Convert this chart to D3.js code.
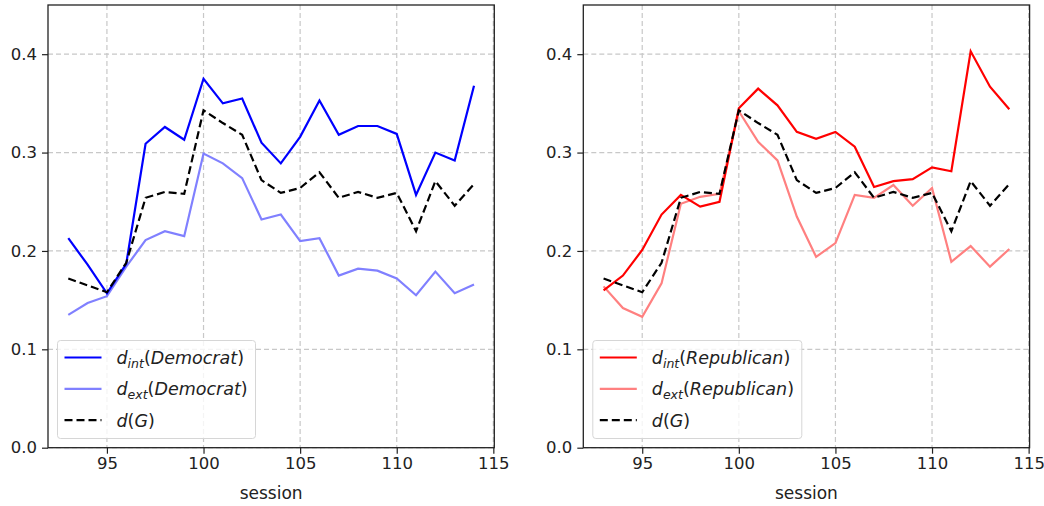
<!DOCTYPE html>
<html>
<head>
<meta charset="utf-8">
<script src="https://cdn.jsdelivr.net/npm/d3@7"></script>
<style>
  body { margin: 0; background: #fff; }
  svg { font-family: "DejaVu Sans", sans-serif; }
</style>
</head>
<body>
<svg id="chart" width="1044" height="506"></svg>
<script>
const sessions = d3.range(93, 115);
const dG = [0.172, 0.165, 0.158, 0.188, 0.254, 0.260, 0.258, 0.343, 0.330, 0.318, 0.272,
            0.259, 0.264, 0.280, 0.254, 0.260, 0.254, 0.259, 0.220, 0.271, 0.246, 0.268];
const dIntDem = [0.213, 0.186, 0.157, 0.187, 0.309, 0.326, 0.313, 0.375, 0.350, 0.355, 0.310,
                 0.289, 0.316, 0.353, 0.318, 0.327, 0.327, 0.319, 0.257, 0.300, 0.292, 0.368];
const dExtDem = [0.135, 0.147, 0.154, 0.184, 0.211, 0.220, 0.215, 0.299, 0.289, 0.274, 0.232,
                 0.237, 0.210, 0.213, 0.175, 0.182, 0.180, 0.172, 0.155, 0.179, 0.157, 0.166];
const dIntRep = [0.160, 0.175, 0.201, 0.237, 0.257, 0.245, 0.250, 0.345, 0.365, 0.348, 0.321,
                 0.314, 0.321, 0.306, 0.265, 0.271, 0.273, 0.285, 0.281, 0.403, 0.367, 0.344];
const dExtRep = [0.164, 0.142, 0.133, 0.167, 0.248, 0.255, 0.258, 0.342, 0.311, 0.292, 0.235,
                 0.194, 0.208, 0.257, 0.254, 0.267, 0.246, 0.264, 0.189, 0.205, 0.184, 0.202];
const xTicks = [95, 100, 105, 110, 115];
const yTicks = [0.0, 0.1, 0.2, 0.3, 0.4];

const panels = [
  { left: 48, party: "Democrat", int: dIntDem, ext: dExtDem, cInt: "#0000ff", cExt: "#8080ff" },
  { left: 583.3, party: "Republican", int: dIntRep, ext: dExtRep, cInt: "#ff0000", cExt: "#ff8080" },
];
const pw = 446.3, plotTop = 5, plotBottom = 447.7;

const svg = d3.select("#chart");

panels.forEach((p) => {
  const x = d3.scaleLinear().domain([91.95, 115.05]).range([p.left, p.left + pw]);
  const y = d3.scaleLinear().domain([0, 0.45]).range([plotBottom, plotTop]);
  const g = svg.append("g");

  // grid
  g.append("g").selectAll("line").data(xTicks).join("line")
    .attr("x1", (d) => x(d)).attr("x2", (d) => x(d))
    .attr("y1", plotTop).attr("y2", plotBottom)
    .attr("stroke", "#c8c8c8").attr("stroke-width", 1.2).attr("stroke-dasharray", "5,3");
  g.append("g").selectAll("line").data(yTicks).join("line")
    .attr("x1", p.left).attr("x2", p.left + pw)
    .attr("y1", (d) => y(d)).attr("y2", (d) => y(d))
    .attr("stroke", "#c8c8c8").attr("stroke-width", 1.2).attr("stroke-dasharray", "5,3");

  const line = (vals) => d3.line().x((d, i) => x(sessions[i])).y((d) => y(d))(vals);

  g.append("path").attr("d", line(p.ext)).attr("fill", "none")
    .attr("stroke", p.cExt).attr("stroke-width", 2.2);
  g.append("path").attr("d", line(p.int)).attr("fill", "none")
    .attr("stroke", p.cInt).attr("stroke-width", 2.2);
  g.append("path").attr("d", line(dG)).attr("fill", "none")
    .attr("stroke", "#000").attr("stroke-width", 2.2).attr("stroke-dasharray", "8,4");

  // axes
  const xAxis = g.append("g").attr("transform", `translate(0,${plotBottom})`)
    .call(d3.axisBottom(x).tickValues(xTicks).tickSize(6).tickPadding(4).tickFormat(d3.format("d")));
  const yAxis = g.append("g").attr("transform", `translate(${p.left},0)`)
    .call(d3.axisLeft(y).tickValues(yTicks).tickSize(6).tickPadding(5).tickFormat(d3.format(".1f")));
  [xAxis, yAxis].forEach((a) => {
    a.select(".domain").remove();
    a.selectAll("line").attr("stroke", "#222").attr("stroke-width", 1.2);
    a.selectAll("text").attr("font-size", 16.5).attr("fill", "#222")
      .attr("font-family", "DejaVu Sans, sans-serif");
  });

  g.append("rect").attr("x", p.left).attr("y", plotTop).attr("width", pw).attr("height", plotBottom - plotTop)
    .attr("fill", "none").attr("stroke", "#222").attr("stroke-width", 1.3);

  g.append("text").attr("x", p.left + pw / 2).attr("y", 499)
    .attr("text-anchor", "middle").attr("font-size", 17).attr("fill", "#222").text("session");

  // legend
  const lx = p.left + 9.5, ly = 340.5;
  const lw = p.party === "Democrat" ? 198 : 209;
  const lg = g.append("g");
  lg.append("rect").attr("x", lx).attr("y", ly).attr("width", lw).attr("height", 98)
    .attr("rx", 3).attr("fill", "rgba(255,255,255,0.8)").attr("stroke", "#d6d6d6").attr("stroke-width", 1);
  const items = [
    { c: p.cInt, dash: null, sub: "int" },
    { c: p.cExt, dash: null, sub: "ext" },
    { c: "#000", dash: "8,4", sub: null },
  ];
  items.forEach((it, i) => {
    const yy = ly + 17 + i * 31.3;
    lg.append("line").attr("x1", lx + 7).attr("x2", lx + 44).attr("y1", yy).attr("y2", yy)
      .attr("stroke", it.c).attr("stroke-width", 2.2).attr("stroke-dasharray", it.dash);
    const t = lg.append("text").attr("x", lx + 59).attr("y", yy + 6.5)
      .attr("font-size", 17.5).attr("fill", "#222");
    t.append("tspan").attr("font-style", "italic").text("d");
    if (it.sub) {
      t.append("tspan").attr("font-style", "italic").attr("font-size", 12.5).attr("dy", 4).text(it.sub);
      t.append("tspan").attr("dy", -4).text("(");
      t.append("tspan").attr("font-style", "italic").text(p.party);
      t.append("tspan").text(")");
    } else {
      t.append("tspan").text("(");
      t.append("tspan").attr("font-style", "italic").text("G");
      t.append("tspan").text(")");
    }
  });
});
</script>
</body>
</html>
